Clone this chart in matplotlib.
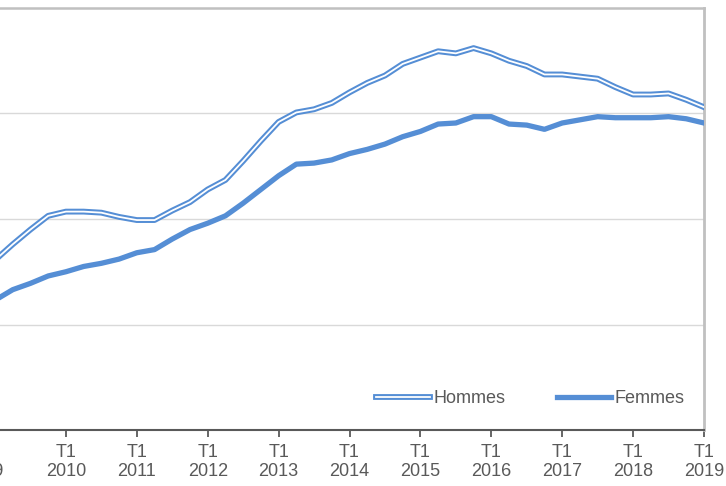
import numpy as np
import matplotlib
matplotlib.use("Agg")
import matplotlib.pyplot as plt
import matplotlib.patheffects as pe
import matplotlib.transforms as mtransforms

# Quarterly series, 2009 T1 -> 2019 T1
years = list(range(2009, 2020))
hommes = [1.61, 1.76, 1.90, 2.03,
          2.07, 2.07, 2.06, 2.02,
          1.99, 1.99, 2.08, 2.16,
          2.28, 2.37, 2.55, 2.74,
          2.92, 3.01, 3.04, 3.10,
          3.20, 3.29, 3.36, 3.47,
          3.53, 3.59, 3.57, 3.62,
          3.57, 3.50, 3.45, 3.37,
          3.37, 3.35, 3.33, 3.25,
          3.18, 3.18, 3.19, 3.13,
          3.06]
femmes = [1.23, 1.33, 1.39, 1.46,
          1.50, 1.55, 1.58, 1.62,
          1.68, 1.71, 1.81, 1.90,
          1.96, 2.03, 2.15, 2.28,
          2.41, 2.52, 2.53, 2.56,
          2.62, 2.66, 2.71, 2.78,
          2.83, 2.90, 2.91, 2.97,
          2.97, 2.90, 2.89, 2.85,
          2.91, 2.94, 2.97, 2.96,
          2.96, 2.96, 2.97, 2.95,
          2.91]
tick_labels = [f"T1\n{y}" for y in years]

blue = "#558ed5"
text_col = "#595959"
plt.rcParams['font.family'] = ['Liberation Sans', 'DejaVu Sans']

fig = plt.figure(figsize=(7.26, 4.86), dpi=100)
W, H = 726, 486
# plot area: 2009 T1 sits just off the left edge of the image
ax = fig.add_axes([-5 / W, (H - 430) / H, 709 / W, 422 / H])

q = np.arange(len(hommes))
ax.plot(q, hommes, color="white", lw=1.3, label="Hommes",
        path_effects=[pe.Stroke(linewidth=4.2, foreground=blue), pe.Normal()],
        zorder=3)
ax.plot(q, femmes, color=blue, lw=3.8, label="Femmes", zorder=3)

ax.set_xlim(0, len(hommes) - 1)
ax.set_ylim(0, 4)
ax.set_xticks(np.arange(0, len(hommes), 4))
ax.set_xticklabels(tick_labels, fontsize=13, color=text_col, linespacing=1.2)
ax.set_yticks([1, 2, 3])
ax.tick_params(axis="y", left=False, labelleft=False)
ax.tick_params(axis="x", direction="out", length=5, width=1.3,
               color=text_col, pad=5)
ax.grid(axis="y", color="#d9d9d9", lw=1)

# first label is mostly cut off at the left edge, as in the source image
first = ax.get_xticklabels()[0]
first.set_transform(first.get_transform() +
                    mtransforms.ScaledTranslation(-0.12, 0, fig.dpi_scale_trans))
ax.get_xaxis().get_major_ticks()[0].tick1line.set_visible(False)

ax.spines["left"].set_visible(False)
ax.spines["bottom"].set_color(text_col)
ax.spines["bottom"].set_linewidth(1.5)
ax.spines["top"].set_color("#c0c0c0")
ax.spines["top"].set_linewidth(1.8)
ax.spines["right"].set_color("#c0c0c0")
ax.spines["right"].set_linewidth(2)

leg = ax.legend(loc="lower right", bbox_to_anchor=(690 / 709, 23 / 422),
                ncol=2, frameon=False, fontsize=13, handlelength=3.0,
                handletextpad=0.2, columnspacing=2.85, borderaxespad=0,
                borderpad=0)
for t in leg.get_texts():
    t.set_color(text_col)

fig.savefig("out.png", dpi=100)
